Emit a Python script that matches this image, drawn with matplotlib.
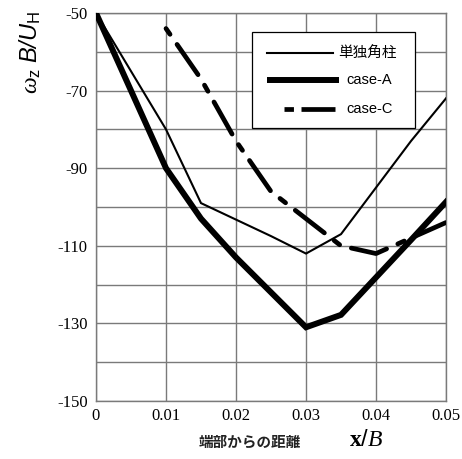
import matplotlib
matplotlib.use("Agg")
import matplotlib.pyplot as plt
from matplotlib.patches import Rectangle
from matplotlib.lines import Line2D

plt.rcParams['font.family'] = ['Liberation Sans', 'Noto Sans CJK JP']
plt.rcParams['axes.unicode_minus'] = False
plt.rcParams['mathtext.fontset'] = 'custom'
plt.rcParams['mathtext.rm'] = 'Liberation Sans'
plt.rcParams['mathtext.it'] = 'Liberation Serif:italic'
plt.rcParams['mathtext.sf'] = 'Liberation Sans:italic'
plt.rcParams['mathtext.bf'] = 'Liberation Serif:bold'

# data
x_single = [0.0, 0.01, 0.015, 0.025, 0.03, 0.035, 0.04, 0.045, 0.05]
y_single = [-50, -80, -99, -107.5, -112, -107, -95, -83, -72]
x_caseA = [0.0, 0.01, 0.015, 0.02, 0.03, 0.035, 0.045, 0.05]
y_caseA = [-50, -90, -103, -113, -131, -127.8, -108.5, -98.7]
x_caseC = [0.01, 0.015, 0.02, 0.025, 0.03, 0.035, 0.04, 0.045, 0.05]
y_caseC = [-54, -67, -83, -96, -103, -110, -112, -108, -104]
labels = ['単独角柱', 'case-A', 'case-C']
xticks = [0, 0.01, 0.02, 0.03, 0.04, 0.05]
xticklabels = ['0', '0.01', '0.02', '0.03', '0.04', '0.05']
yticks = [-50, -70, -90, -110, -130, -150]

W, H = 462, 459
fig = plt.figure(figsize=(W / 100, H / 100), dpi=100)
ax = fig.add_axes([96 / W, 1 - 401 / H, 350 / W, 388 / H])

ax.set_xlim(0, 0.05)
ax.set_ylim(-150, -50)
ax.set_xticks(xticks)
ax.set_xticklabels(xticklabels, fontfamily='Liberation Serif', fontsize=12)
ax.set_yticks(yticks)
ax.set_yticklabels([str(v) for v in yticks], fontfamily='Liberation Serif', fontsize=12)
ax.set_yticks(list(range(-140, -50, 20)), minor=True)
ax.grid(True, which='both', color='#7a7a7a', lw=1.0)
ax.set_axisbelow(True)
ax.tick_params(which='both', length=0)
ax.tick_params(axis='y', pad=6)
ax.tick_params(axis='x', pad=5)
for s in ax.spines.values():
    s.set_color('#7a7a7a')
    s.set_linewidth(1.0)

dash_style = (0, (1.5, 2.6, 7.8, 2.6))

ax.plot(x_single, y_single, color='black', lw=1.5, zorder=3, solid_joinstyle='miter')
ax.plot(x_caseA, y_caseA, color='black', lw=4.3, zorder=3, solid_joinstyle='miter')
ax.plot(x_caseC, y_caseC, color='black', lw=3.4, zorder=3, linestyle=dash_style,
        dash_capstyle='round')

# legend box
def fx(px):
    return px / W

def fy(py):
    return 1 - py / H

fig.patches.append(Rectangle((fx(252), fy(128)), fx(415) - fx(252), fy(32) - fy(128),
                             transform=fig.transFigure, facecolor='white',
                             edgecolor='black', lw=0.9, zorder=5))
fig.lines.append(Line2D([fx(267), fx(333)], [fy(53), fy(53)], transform=fig.transFigure,
                        color='black', lw=1.5, zorder=6))
fig.lines.append(Line2D([fx(267), fx(339)], [fy(80), fy(80)], transform=fig.transFigure,
                        color='black', lw=4.3, zorder=6, solid_capstyle='butt'))
fig.lines.append(Line2D([fx(284), fx(336)], [fy(109), fy(109)], transform=fig.transFigure,
                        color='black', lw=3.4, zorder=6, linestyle=(0, (2.0, 1.6, 7.2, 10)),
                        dash_capstyle='butt'))
fig.text(fx(338), fy(53), labels[0], fontsize=10.5, va='center', ha='left', zorder=7,
         family=['Noto Sans CJK JP'])
fig.text(fx(346), fy(80), labels[1], fontsize=10.5, va='center', ha='left', zorder=7)
fig.text(fx(346), fy(109), labels[2], fontsize=10.5, va='center', ha='left', zorder=7)

# axis labels
fig.text(fx(30), fy(11), r'$\omega_{\mathrm{z}}\ \mathsf{B/U}_{\mathrm{H}}$', rotation=90,
         fontsize=17, ha='center', va='top')
fig.text(fx(250), fy(442), '端部からの距離', fontsize=10.5, ha='center', va='center',
         family=['Noto Sans CJK JP'], fontweight='bold', color='#222222')
fig.text(fx(366), fy(440), r'$\mathbf{x}/B$', fontsize=17, ha='center', va='center')

fig.savefig('out.png', dpi=100)
